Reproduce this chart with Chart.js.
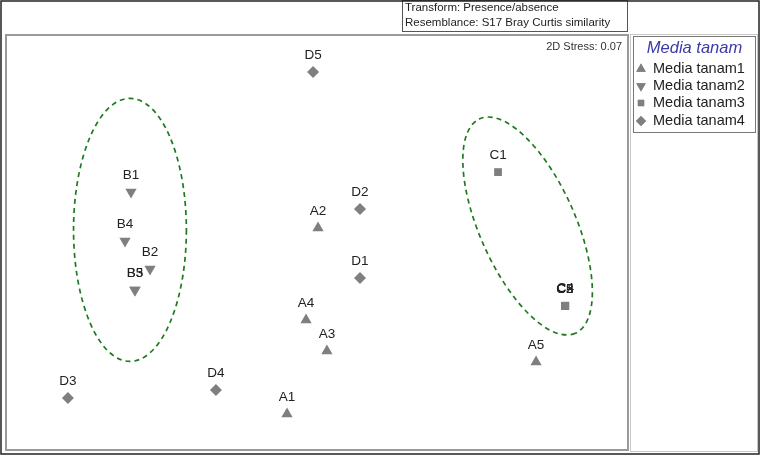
<!DOCTYPE html>
<html>
<head>
<meta charset="utf-8">
<script src="https://cdn.jsdelivr.net/npm/chart.js@4/dist/chart.umd.min.js"></script>
<style>
html,body{margin:0;padding:0;background:#fff;}
#wrap{position:relative;width:761px;height:456px;}
</style>
</head>
<body>
<div id="wrap"><canvas id="c" width="761" height="456"></canvas></div>
<script>
// ---- data (MDS coordinates) ----
const seriesNames = ['Media tanam1', 'Media tanam2', 'Media tanam3', 'Media tanam4'];

const labelsA = ['A1', 'A2', 'A3', 'A4', 'A5'];
const xA = [-0.145, 0.005, 0.048, -0.053, 1.060];
const yA = [-0.830, 0.070, -0.525, -0.375, -0.579];

const labelsB = ['B1', 'B2', 'B3', 'B4', 'B5'];
const xB = [-0.900, -0.808, -0.881, -0.929, -0.881];
const yB = [0.245, -0.128, -0.230, 0.007, -0.230];

const labelsC = ['C1', 'C2', 'C3', 'C4', 'C5'];
const xC = [0.876, 1.200, 1.200, 1.202, 1.200];
const yC = [0.341, -0.308, -0.308, -0.306, -0.308];

const labelsD = ['D1', 'D2', 'D3', 'D4', 'D5'];
const xD = [0.208, 0.208, -1.205, -0.489, -0.019];
const yD = [-0.172, 0.162, -0.753, -0.714, 0.826];

const stressText = '2D Stress: 0.07';
const infoLines = ['Transform: Presence/absence', 'Resemblance: S17 Bray Curtis similarity'];
const legendTitle = 'Media tanam';

// cluster ellipses: centre x, centre y, semi-axis a, semi-axis b (data units), rotation (deg)
const ellipseCx = [-0.905, 1.019];
const ellipseCy = [0.061, 0.080];
const ellipseA = [0.273, 0.568];
const ellipseB = [0.637, 0.232];
const ellipseRot = [0, 66];

const pointLabels = [labelsA, labelsB, labelsC, labelsD];
const xs = [xA, xB, xC, xD];
const ys = [yA, yB, yC, yD];
const styles = ['triangle', 'triangle', 'rect', 'rectRot'];
const rotations = [0, 180, 0, 0];
const radii = [6.5, 6.5, 5.5, 6];
const legendRadii = [5.5, 5.5, 4.5, 5];

const GREY = '#7f7f7f';
const FONT = '"Liberation Sans", Arial, sans-serif';

const datasets = seriesNames.map((name, i) => ({
  label: name,
  data: xs[i].map((x, j) => ({x: x, y: ys[i][j]})),
  pointStyle: styles[i],
  rotation: rotations[i],
  pointRadius: radii[i],
  pointHoverRadius: radii[i],
  backgroundColor: GREY,
  borderColor: GREY,
  borderWidth: 0
}));

const decor = {
  id: 'decor',
  beforeDraw(chart) {
    const ctx = chart.ctx;
    ctx.save();
    ctx.fillStyle = '#fff';
    ctx.fillRect(0, 0, chart.width, chart.height);
    ctx.restore();
  },
  beforeDatasetsDraw(chart) {
    const ctx = chart.ctx;
    const xs_ = chart.scales.x, ys_ = chart.scales.y;
    ctx.save();
    ctx.strokeStyle = '#1f7a1f';
    ctx.lineWidth = 1.7;
    ctx.setLineDash([5, 4]);
    for (let i = 0; i < ellipseCx.length; i++) {
      const cx = xs_.getPixelForValue(ellipseCx[i]);
      const cy = ys_.getPixelForValue(ellipseCy[i]);
      const pxPerX = Math.abs(xs_.getPixelForValue(1) - xs_.getPixelForValue(0));
      const pxPerY = Math.abs(ys_.getPixelForValue(1) - ys_.getPixelForValue(0));
      const rx = ellipseA[i] * pxPerX;
      const ry = ellipseB[i] * pxPerY;
      ctx.beginPath();
      ctx.ellipse(cx, cy, rx, ry, ellipseRot[i] * Math.PI / 180, 0, Math.PI * 2);
      ctx.stroke();
    }
    ctx.restore();
  },
  afterDatasetsDraw(chart) {
    const ctx = chart.ctx;
    const a = chart.chartArea;
    ctx.save();
    // point labels
    ctx.fillStyle = '#222';
    ctx.font = '13.5px ' + FONT;
    ctx.textAlign = 'center';
    ctx.textBaseline = 'middle';
    chart.data.datasets.forEach((ds, i) => {
      const meta = chart.getDatasetMeta(i);
      meta.data.forEach((pt, j) => {
        ctx.fillText(pointLabels[i][j], pt.x, pt.y - 17);
      });
    });

    // plot frame
    ctx.strokeStyle = '#9a9a9a';
    ctx.lineWidth = 2;
    ctx.strokeRect(a.left - 1, a.top - 1, a.right - a.left + 2, a.bottom - a.top + 2);

    // stress text
    ctx.fillStyle = '#333';
    ctx.font = '11px ' + FONT;
    ctx.textAlign = 'right';
    ctx.fillText(stressText, a.right - 5, 47);

    // info box
    ctx.strokeStyle = '#555';
    ctx.lineWidth = 1;
    ctx.strokeRect(402.5, 0.5, 225, 31);
    ctx.fillStyle = '#222';
    ctx.font = '11.5px ' + FONT;
    ctx.textAlign = 'left';
    ctx.fillText(infoLines[0], 405, 8);
    ctx.fillText(infoLines[1], 405, 23);

    // legend panel
    ctx.strokeStyle = '#c8c8c8';
    ctx.strokeRect(630.5, 34.5, 127, 417);
    ctx.strokeStyle = '#777';
    ctx.strokeRect(633.5, 36.5, 122, 96);
    ctx.fillStyle = '#3a3aa8';
    ctx.font = 'italic 16.5px ' + FONT;
    ctx.textAlign = 'center';
    ctx.fillText(legendTitle, 694.5, 48);
    ctx.font = '14.5px ' + FONT;
    ctx.textAlign = 'left';
    const rowY = [69, 86, 103, 121];
    seriesNames.forEach((name, i) => {
      ctx.fillStyle = GREY;
      Chart.helpers.drawPoint(ctx, {
        pointStyle: styles[i], rotation: rotations[i], radius: legendRadii[i], borderWidth: 0
      }, 641, rowY[i]);
      ctx.fillStyle = GREY;
      ctx.fill();
      ctx.fillStyle = '#222';
      ctx.fillText(name, 653, rowY[i]);
    });

    // outer border
    ctx.strokeStyle = '#222';
    ctx.lineWidth = 1.5;
    ctx.strokeRect(1, 1, 758, 453);
    ctx.restore();
  }
};

new Chart(document.getElementById('c'), {
  type: 'scatter',
  data: {datasets: datasets},
  options: {
    responsive: false,
    animation: false,
    events: [],
    layout: {padding: {left: 7, top: 36, right: 134, bottom: 7}},
    plugins: {legend: {display: false}, tooltip: {enabled: false}},
    scales: {
      x: {display: false, min: -1.5, max: 1.5},
      y: {display: false, min: -1, max: 1}
    }
  },
  plugins: [decor]
});
</script>
</body>
</html>
